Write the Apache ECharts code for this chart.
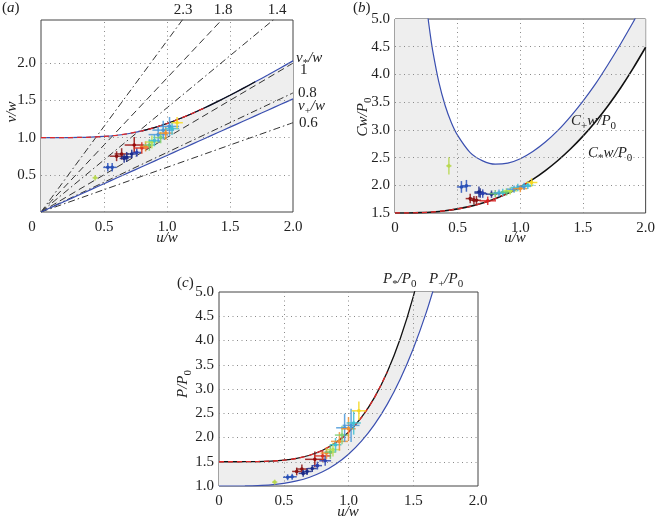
<!DOCTYPE html>
<html><head><meta charset="utf-8">
<script src="https://cdn.jsdelivr.net/npm/echarts@6/dist/echarts.min.js"></script>
<style>html,body{margin:0;padding:0;background:#fff}#c{width:658px;height:520px}</style>
</head><body><div id="c"></div>
<script>
// ---------- data ----------
const uS = [0,0.1,0.2,0.3,0.4,0.5,0.6,0.7,0.8,0.9,1.0,1.1,1.2,1.3,1.4,1.5,1.6,1.7,1.8,1.9,2.0];
// panel (a)
const vStar = [1.000,1.000,1.000,1.002,1.006,1.015,1.031,1.055,1.090,1.134,1.189,1.253,1.324,1.401,1.483,1.569,1.658,1.749,1.841,1.936,2.031];
const vPlus = [0,0.076,0.152,0.228,0.304,0.380,0.456,0.532,0.608,0.684,0.760,0.836,0.912,0.988,1.064,1.140,1.216,1.292,1.368,1.444,1.520];
const raySlopes = [2.3,1.8,1.4,1.0,0.8,0.6];
const rayStyles = ['dashdot','dash','dashdot','dash','dashdot','dashdot'];
// panel (b)
const cPlusU = [0.26,0.28,0.30,0.35,0.40,0.45,0.50,0.60,0.70,0.80,0.90,1.00,1.10,1.20,1.30,1.40,1.50,1.60,1.70,1.80,1.90,1.93];
const cPlus  = [5.08,4.74,4.44,3.86,3.44,3.13,2.90,2.59,2.44,2.38,2.40,2.48,2.61,2.78,2.99,3.24,3.52,3.83,4.18,4.55,4.94,5.07];
const cStar  = [1.500,1.501,1.506,1.519,1.541,1.574,1.620,1.681,1.759,1.855,1.970,2.106,2.265,2.447,2.654,2.887,3.147,3.436,3.756,4.109,4.490];
// panel (c)
const pStarU = [0,0.1,0.2,0.3,0.4,0.5,0.6,0.7,0.8,0.9,1.0,1.1,1.2,1.3,1.4,1.5,1.6];
const pStar  = [1.500,1.500,1.501,1.504,1.513,1.532,1.570,1.634,1.737,1.890,2.110,2.414,2.821,3.356,4.040,4.904,5.980];
const pPlusU = [0,0.1,0.2,0.3,0.4,0.5,0.6,0.7,0.8,0.9,1.0,1.1,1.2,1.3,1.4,1.5,1.6,1.7];
const pPlus  = [1.000,1.000,1.002,1.009,1.024,1.054,1.104,1.181,1.293,1.448,1.655,1.924,2.265,2.689,3.207,3.831,4.574,5.450];
// measurements (u, value, half error u, half error value, colour)
const aU  = [0.43,0.53,0.565,0.60,0.64,0.66,0.68,0.72,0.74,0.76,0.80,0.83,0.86,0.88,0.90,0.93,0.95,0.97,0.99,1.02,1.04,1.08];
const aV  = [0.46,0.60,0.60,0.75,0.78,0.72,0.74,0.78,0.90,0.80,0.86,0.88,0.90,0.94,0.96,1.04,1.00,1.10,1.06,1.15,1.12,1.20];
const aDU = [0.005,0.02,0.02,0.04,0.04,0.02,0.03,0.02,0.06,0.02,0.05,0.03,0.03,0.04,0.03,0.06,0.03,0.07,0.04,0.06,0.04,0.03];
const aDV = [0.01,0.03,0.03,0.04,0.05,0.03,0.04,0.03,0.08,0.03,0.05,0.04,0.05,0.06,0.05,0.08,0.05,0.10,0.06,0.10,0.06,0.05];
const bU  = [0.43,0.53,0.57,0.60,0.63,0.65,0.67,0.68,0.70,0.74,0.77,0.80,0.83,0.86,0.89,0.92,0.95,0.98,1.00,1.03,1.06,1.09];
const bV  = [2.35,1.97,1.99,1.76,1.73,1.73,1.88,1.86,1.85,1.72,1.84,1.85,1.86,1.87,1.88,1.90,1.93,1.96,1.94,1.98,2.00,2.05];
const bDU = [0.005,0.02,0.02,0.02,0.02,0.02,0.02,0.03,0.02,0.05,0.03,0.03,0.03,0.03,0.03,0.04,0.04,0.04,0.04,0.04,0.03,0.03];
const bDV = [0.12,0.07,0.07,0.05,0.04,0.04,0.06,0.05,0.04,0.04,0.03,0.03,0.03,0.03,0.03,0.03,0.03,0.03,0.03,0.03,0.03,0.04];
const cU  = [0.43,0.53,0.565,0.60,0.64,0.65,0.68,0.72,0.74,0.76,0.80,0.82,0.83,0.86,0.88,0.90,0.93,0.95,0.97,1.00,1.02,1.04,1.08];
const cV  = [1.08,1.18,1.19,1.30,1.35,1.26,1.30,1.36,1.55,1.42,1.62,1.52,1.68,1.70,1.75,1.85,1.92,2.05,2.20,2.18,2.25,2.30,2.55];
const cDU = [0.005,0.02,0.02,0.02,0.03,0.02,0.02,0.02,0.06,0.02,0.05,0.03,0.03,0.03,0.04,0.03,0.05,0.04,0.05,0.04,0.05,0.04,0.04];
const cDV = [0.01,0.02,0.02,0.04,0.05,0.03,0.03,0.03,0.12,0.04,0.08,0.06,0.08,0.10,0.10,0.10,0.15,0.15,0.25,0.20,0.30,0.20,0.15];
const aCol = ['#b8d850','#2850b8','#2850b8','#8b1010','#8b1010','#1a2a8a','#1a2a8a','#1a2a8a','#9a0a0a','#2a40b0','#d83020','#f08a30','#70c870','#b8e050','#40c0d0','#4a98d8','#80d070','#4a98d8','#f09030','#4a98d8','#40c0d0','#f5d820'];
const bCol = ['#b8d850','#2850b8','#2850b8','#8b1010','#8b1010','#8b1010','#1a2a8a','#1a2a8a','#2a40b0','#d82020','#1a2a8a','#70c870','#4a98d8','#40c0d0','#70c870','#b8e050','#4a98d8','#40c0d0','#f09030','#4a98d8','#40c0d0','#f5d820'];
const cCol = ['#b8d850','#2850b8','#2850b8','#8b1010','#8b1010','#1a2a8a','#1a2a8a','#1a2a8a','#9a0a0a','#2a40b0','#d83020','#2a40b0','#f08a30','#70c870','#b8e050','#40c0d0','#f09030','#80d070','#4a98d8','#f09030','#4a98d8','#40c0d0','#f5d820'];
// ticks
const xTicks = [0,0.5,1.0,1.5,2.0];
const aYTicks = [0.5,1.0,1.5,2.0];
const bYTicks = [1.5,2.0,2.5,3.0,3.5,4.0,4.5,5.0];
const cYTicks = [1.0,1.5,2.0,2.5,3.0,3.5,4.0,4.5,5.0];

// ---------- drawing ----------
const FONT = 'Liberation Serif';
const TXT = '#222';
const FILL = '#eeeeee';
const BLUE = '#3a4fb0';
const FS = 15;
const chart = echarts.init(document.getElementById('c'), null, {renderer:'canvas'});
const pairs = (xs, ys) => xs.map((x,i)=>[x, ys[i]]);

const grids = [
  {left:41, top:20, width:252, height:192},
  {left:395, top:19, width:253, height:194},
  {left:219, top:292, width:259, height:194}
].map(g => Object.assign(g, {show:true, borderColor:'#444', borderWidth:1, backgroundColor:'transparent', containLabel:false}));

const lab = {fontFamily:FONT, fontSize:FS, color:TXT};
const xAxis = [0,1,2].map(i => ({
  type:'value', gridIndex:i, min:0, max:2, interval:0.5,
  axisLine:{show:false}, axisTick:{show:false}, splitLine:{show:false},
  axisLabel: Object.assign({}, lab, {margin:8,
    formatter: v => xTicks.includes(v) ? (v===0 ? (i===0 ? '{z|0}' : '0') : v.toFixed(1)) : '',
    rich:{z:{fontFamily:FONT, fontSize:FS, color:TXT, padding:[0,18,0,0]}}})
}));
const yAxis = [
  {type:'value', gridIndex:0, min:0, max:2.58, interval:0.5, ticks:aYTicks},
  {type:'value', gridIndex:1, min:1.5, max:5, interval:0.5, ticks:bYTicks},
  {type:'value', gridIndex:2, min:1, max:5, interval:0.5, ticks:cYTicks}
].map(a => {
  const t = a.ticks; delete a.ticks;
  return Object.assign(a, {axisLine:{show:false}, axisTick:{show:false}, splitLine:{show:false},
    axisLabel:Object.assign({}, lab, {margin:5, formatter: v => t.some(q=>Math.abs(q-v)<1e-9) ? v.toFixed(1) : ''})});
});

const gridLineStyle = {color:'#8a8a8a', type:[1,3.5], width:1};
function gridLines(i, yt, ymin, ymax){
  const data = [];
  xTicks.filter(x=>x>0 && x<2).forEach(x=>data.push({xAxis:x}));
  yt.filter(y=>y>ymin && y<ymax).forEach(y=>data.push({yAxis:y}));
  return {type:'line', xAxisIndex:i, yAxisIndex:i, data:[], z:3, silent:true,
    markLine:{silent:true, symbol:'none', label:{show:false}, lineStyle:gridLineStyle, data, animation:false}};
}
function polySeries(i, pts){
  return {type:'custom', xAxisIndex:i, yAxisIndex:i, z:1, silent:true, clip:true, data:[[1,1]],
    renderItem:(p, api) => ({type:'polygon', shape:{points: pts.map(q=>api.coord(q))}, style:{fill:FILL}})};
}
function lineSeries(i, data, color, width, type, z){
  return {type:'line', xAxisIndex:i, yAxisIndex:i, data, showSymbol:false, symbol:'none', smooth:0.3, z:z||4, silent:true,
    lineStyle:{color, width, type:type||'solid'}, animation:false, clip:true};
}
function errSeries(i, U, V, DU, DV, COL){
  return {type:'custom', xAxisIndex:i, yAxisIndex:i, z:6, silent:true, clip:true,
    data: U.map((u,k)=>({value:[u, V[k], DU[k], DV[k]], itemStyle:{color:COL[k]}})),
    encode:{x:0, y:1},
    renderItem:(p, api) => {
      const u=api.value(0), v=api.value(1), du=api.value(2), dv=api.value(3), c=api.visual('color');
      const a0=api.coord([u-du,v]), a1=api.coord([u+du,v]), b0=api.coord([u,v-dv]), b1=api.coord([u,v+dv]), m=api.coord([u,v]);
      return {type:'group', children:[
        {type:'line', shape:{x1:a0[0]-2,y1:a0[1],x2:a1[0]+2,y2:a1[1]}, style:{stroke:c, lineWidth:1.5, opacity:0.85}},
        {type:'line', shape:{x1:b0[0],y1:b0[1]+2,x2:b1[0],y2:b1[1]-2}, style:{stroke:c, lineWidth:1.5, opacity:0.85}},
        {type:'circle', shape:{cx:m[0], cy:m[1], r:1.8}, style:{fill:c}}
      ]};
    }};
}
const dashTypes = {dash:[7,4], dashdot:[7,3,1.5,3]};

const series = [];
// panel a
series.push(polySeries(0, pairs(uS, vStar).concat(pairs(uS, vPlus).reverse())));
raySlopes.forEach((k, j) => series.push(lineSeries(0, [[0,0],[2,2*k]], '#333', 1, dashTypes[rayStyles[j]], 3)));
series.push(lineSeries(0, pairs(uS, vPlus), BLUE, 1.2));
series.push(lineSeries(0, pairs(uS, vStar), BLUE, 1.2));
series.push(lineSeries(0, pairs(uS, vStar).filter(p=>p[0]>=0.8 && p[0]<=1.7), '#111', 1.2, 'solid', 5));
series.push(lineSeries(0, pairs(uS, vStar).filter(p=>p[0]<=1.3), '#e02828', 1.3, [5,4], 5));
series.push(gridLines(0, aYTicks, 0, 2.58));
series.push(errSeries(0, aU, aV, aDU, aDV, aCol));
// panel b
series.push(polySeries(1, [[0,6]].concat(pairs(cPlusU, cPlus), [[2,6]], pairs(uS, cStar).reverse())));
series.push(lineSeries(1, pairs(cPlusU, cPlus), BLUE, 1.2));
series.push(lineSeries(1, pairs(uS, cStar), '#111', 1.6));
series.push(lineSeries(1, pairs(uS, cStar).filter(p=>p[0]<=1.1), '#e02828', 1.4, [5,4], 5));
series.push(gridLines(1, bYTicks, 1.5, 5));
series.push(errSeries(1, bU, bV, bDU, bDV, bCol));
// panel c
series.push(polySeries(2, pairs(pStarU, pStar).concat(pairs(pPlusU, pPlus).reverse())));
series.push(lineSeries(2, pairs(pPlusU, pPlus), BLUE, 1.2));
series.push(lineSeries(2, pairs(pStarU, pStar), '#111', 1.3));
series.push(lineSeries(2, pairs(pStarU, pStar).filter(p=>p[0]<=1.3), '#e02828', 1.3, [5,4], 5));
series.push(gridLines(2, cYTicks, 1, 5));
series.push(errSeries(2, cU, cV, cDU, cDV, cCol));

// ---------- text annotations ----------
const mctx = document.createElement('canvas').getContext('2d');
function fontOf(size, it){ return (it?'italic ':'') + size + 'px "' + FONT + '"'; }
function tw(t, size, it){ mctx.font = fontOf(size, it); return mctx.measureText(t).width; }
// parts: [text, italic, subscript]
function label(x, y, parts, rot, center){
  let cx = 0; const kids = [];
  parts.forEach(p => {
    const size = p[2] ? 11 : FS;
    kids.push({type:'text', x:cx, y: p[2] ? 5 : 0, z:100, zlevel:0,
      style:{text:p[0], font:fontOf(size, p[1]), fill:TXT, textAlign:'left', textVerticalAlign:'middle', align:'left', verticalAlign:'middle'}});
    cx += tw(p[0], size, p[1]);
  });
  if (center) kids.forEach(k => k.x -= cx/2);
  return {type:'group', x, y, rotation: rot||0, z:100, children:kids, silent:true};
}
const I = 1, S = 1;
const graphics = [
  label(2, 8, [['('],['a',I],[')']]),
  label(353, 8, [['('],['b',I],[')']]),
  label(177, 283, [['('],['c',I],[')']]),
  // panel a
  label(183, 10, [['2.3']], 0, true),
  label(223, 10, [['1.8']], 0, true),
  label(277, 10, [['1.4']], 0, true),
  label(296, 58, [['v',I],['*',0,S],['/w',I]]),
  label(300, 70, [['1']]),
  label(298, 93, [['0.8']]),
  label(298, 106, [['v',I],['+',0,S],['/w',I]]),
  label(299, 123, [['0.6']]),
  label(12, 112, [['v/w',I]], Math.PI/2, true),
  label(167, 238, [['u/w',I]], 0, true),
  // panel b
  label(363, 117, [['Cw/P',I],['0',0,S]], Math.PI/2, true),
  label(515, 238, [['u/w',I]], 0, true),
  label(571, 121, [['C',I],['+',0,S],['w/P',I],['0',0,S]]),
  label(588, 153, [['C',I],['*',0,S],['w/P',I],['0',0,S]]),
  // panel c
  label(183, 384, [['P/P',I],['0',0,S]], Math.PI/2, true),
  label(348, 512, [['u/w',I]], 0, true),
  label(383, 279, [['P',I],['*',0,S],['/P',I],['0',0,S]]),
  label(429, 279, [['P',I],['+',0,S],['/P',I],['0',0,S]])
];

chart.setOption({
  animation:false,
  backgroundColor:'#fff',
  grid:grids, xAxis, yAxis, series,
  graphic:{elements:graphics}
});
</script></body></html>
